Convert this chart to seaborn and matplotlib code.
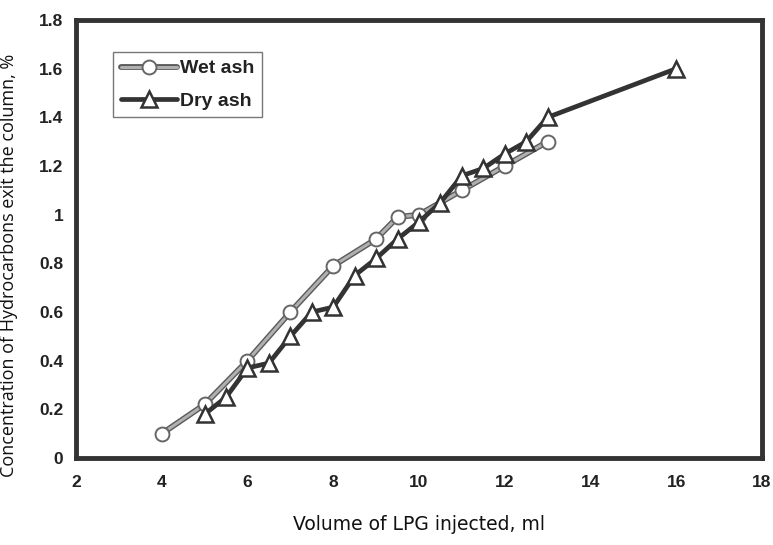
import matplotlib
matplotlib.use("Agg")
import matplotlib.pyplot as plt
import seaborn as sns
import pandas as pd
import matplotlib.patheffects as pe
from matplotlib.lines import Line2D
from matplotlib.legend_handler import HandlerTuple

wet_x = [4, 5, 6, 7, 8, 9, 9.5, 10, 11, 12, 13]
wet_y = [0.10, 0.22, 0.40, 0.60, 0.79, 0.90, 0.99, 1.00, 1.10, 1.20, 1.30]
dry_x = [5, 5.5, 6, 6.5, 7, 7.5, 8, 8.5, 9, 9.5, 10, 10.5, 11, 11.5, 12, 12.5, 13, 16]
dry_y = [0.18, 0.25, 0.37, 0.39, 0.50, 0.60, 0.62, 0.75, 0.82, 0.90, 0.97, 1.05,
         1.16, 1.19, 1.25, 1.30, 1.40, 1.60]
x_ticks = [2, 4, 6, 8, 10, 12, 14, 16, 18]
y_ticks = [0, 0.2, 0.4, 0.6, 0.8, 1.0, 1.2, 1.4, 1.6, 1.8]
y_tick_labels = ["0", "0.2", "0.4", "0.6", "0.8", "1", "1.2", "1.4", "1.6", "1.8"]

sns.set_theme(style="white")
plt.rcParams['font.family'] = ['Liberation Sans', 'DejaVu Sans']

fig = plt.figure(figsize=(7.73, 5.45), dpi=100)
ax = fig.add_axes([0.0983, 0.1596, 0.8875, 0.8037])

wet = pd.DataFrame({"x": wet_x, "y": wet_y})
dry = pd.DataFrame({"x": dry_x, "y": dry_y})

wet_pe = [pe.Stroke(linewidth=4.2, foreground="#5a5a5a"), pe.Normal()]
wet_line_kw = dict(color="#b0b0b0", lw=2.2)
wet_marker_kw = dict(marker="o", markersize=10, markerfacecolor="white",
                     markeredgecolor="#666666", markeredgewidth=1.4)
dry_kw = dict(color="#333333", lw=3.4, marker="^", markersize=11,
              markerfacecolor="white", markeredgecolor="#333333",
              markeredgewidth=1.8)

sns.lineplot(data=wet, x="x", y="y", ax=ax, legend=False,
             path_effects=wet_pe, zorder=2, **wet_line_kw)
sns.lineplot(data=wet, x="x", y="y", ax=ax, legend=False, lw=0,
             zorder=3, **wet_marker_kw)
sns.lineplot(data=dry, x="x", y="y", ax=ax, legend=False, zorder=4, **dry_kw)

ax.set_xlim(2, 18)
ax.set_ylim(0, 1.8)
ax.set_xticks(x_ticks)
ax.set_xticklabels([str(t) for t in x_ticks])
ax.set_yticks(y_ticks)
ax.set_yticklabels(y_tick_labels)
for lab in ax.get_xticklabels() + ax.get_yticklabels():
    lab.set_fontweight("bold")
    lab.set_fontsize(12.5)
    lab.set_color("#222222")
ax.tick_params(axis="both", direction="in", length=5, width=1.5, color="#333333")
ax.tick_params(axis="x", pad=12)
ax.tick_params(axis="y", pad=9)
for s in ax.spines.values():
    s.set_visible(True)
    s.set_linewidth(3.5)
    s.set_color("#333333")

ax.set_xlabel("Volume of LPG injected, ml", fontsize=13.5, color="#111111",
              family=["DejaVu Sans"], labelpad=18)
ax.set_ylabel("Concentration of Hydrocarbons exit the column, %", fontsize=13,
              color="#111111", family=["Open Sans", "DejaVu Sans"])
ax.yaxis.set_label_coords(-0.085, 0.44)

h_wet_line = Line2D([], [], path_effects=wet_pe, **wet_line_kw)
h_wet_mark = Line2D([], [], lw=0, **wet_marker_kw)
h_dry = Line2D([], [], **dry_kw)
leg = ax.legend([(h_wet_line, h_wet_mark), h_dry], ["Wet ash", "Dry ash"],
                handler_map={tuple: HandlerTuple(ndivide=1, pad=0)},
                loc="upper left", bbox_to_anchor=(0.054, 0.927), borderaxespad=0,
                frameon=True, fancybox=False, edgecolor="#555555",
                handlelength=2.9, borderpad=0.4, labelspacing=0.75,
                handletextpad=0.15, prop={"weight": "bold", "size": 14})
leg.get_frame().set_linewidth(1.0)
for t in leg.get_texts():
    t.set_color("#222222")

fig.savefig("out.png", dpi=100)
